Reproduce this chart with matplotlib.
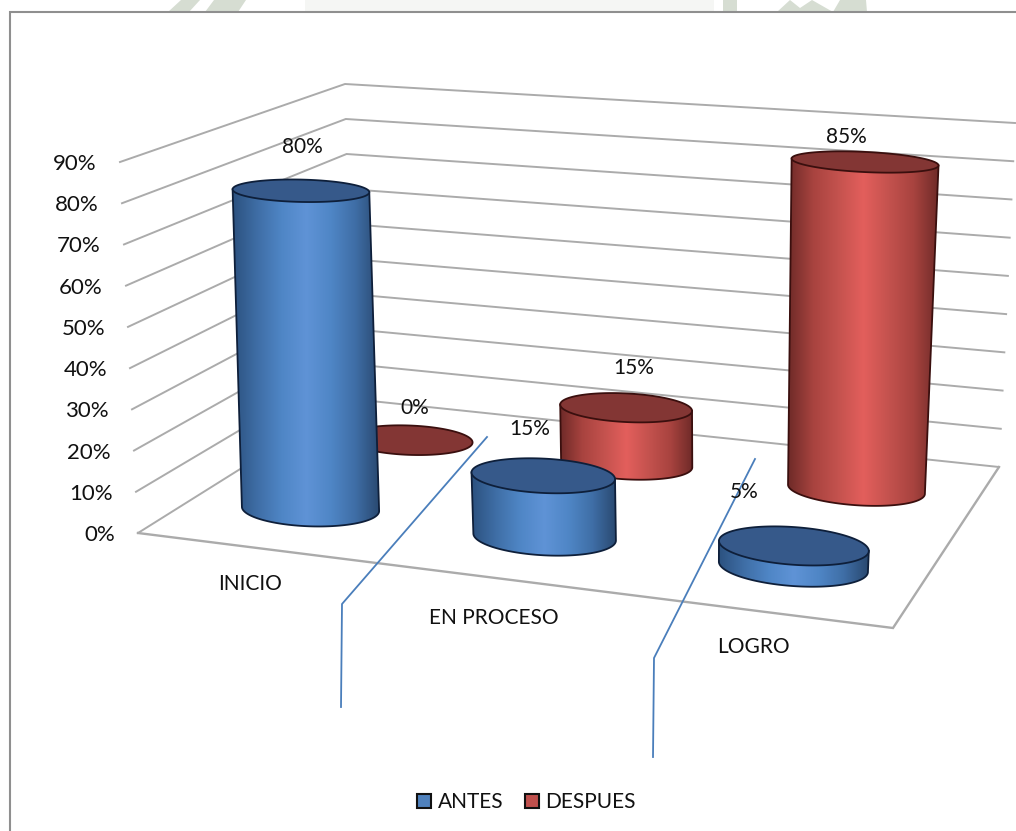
import numpy as np
import matplotlib
matplotlib.use("Agg")
import matplotlib.pyplot as plt
from matplotlib.patches import Polygon, Rectangle
from matplotlib.colors import LinearSegmentedColormap

plt.rcParams['font.family'] = ['Lato', 'DejaVu Sans']

categories = ["INICIO", "EN PROCESO", "LOGRO"]
series_names = ["ANTES", "DESPUES"]
antes = [80, 15, 5]
despues = [0, 15, 85]
value_ticks = list(range(0, 100, 10))
tick_labels = [f"{v}%" for v in value_ticks]

W, H = 1016, 831
fig = plt.figure(figsize=(W / 100, H / 100), dpi=100)
ax = fig.add_axes([0, 0, 1, 1])
ax.set_xlim(0, W)
ax.set_ylim(H, 0)
ax.axis("off")

# chart box corners: front-left, front-right, back-right, back-left
floor = [(138, 533), (893, 628), (999, 467), (352, 399)]
ceil_ = [(120, 162), (915, 228), (1015, 123), (345, 84)]
bar_ceil = [(125, 164), (916, 232), (1017, 130), (352, 88)]
vmax = 90.0
ncat, ndepth = 3.0, 2.0


def homography(pts):
    src = [(0, 0), (1, 0), (1, 1), (0, 1)]
    A, b = [], []
    for (s, t), (x, y) in zip(src, pts):
        A.append([s, t, 1, 0, 0, 0, -s * x, -t * x]); b.append(x)
        A.append([0, 0, 0, s, t, 1, -s * y, -t * y]); b.append(y)
    h = np.linalg.solve(np.array(A, float), np.array(b, float))
    return np.append(h, 1).reshape(3, 3)


HF, HC, HB = homography(floor), homography(ceil_), homography(bar_ceil)


def proj(u, w, v, upper=HC):
    """category position u, depth w, value v -> pixel"""
    u, w = np.asarray(u, float), np.asarray(w, float)
    p = np.stack([u / ncat, w / ndepth, np.ones_like(u)])
    a = HF @ p
    c = upper @ p
    a, c = a[:2] / a[2], c[:2] / c[2]
    t = v / vmax
    return a * (1 - t) + c * t


# faint watermark of the scanned page showing above the chart frame
WM = "#d6ddd2"
for pts in ([(168, 12), (181, 0), (200, 0), (189, 12)],
            [(205, 12), (214, 0), (246, 0), (238, 12)],
            [(723, 12), (723, 0), (737, 0), (737, 12)],
            [(777, 12), (790, 0), (800, 8), (812, 0), (833, 12)],
            [(833, 12), (840, 0), (866, 0), (867, 12)]):
    ax.add_patch(Polygon(pts, closed=True, fc=WM, ec="none", zorder=0))
ax.add_patch(Polygon([(305, 12), (305, 0), (714, 0), (714, 12)], closed=True, fc="#f5f6f4", ec="none", zorder=0))

GRID = "#ababab"
FRAME = "#8f8f8f"
ax.plot([10, 10, W], [H, 12, 12], color=FRAME, lw=1.5, zorder=1, solid_joinstyle="miter")

# walls
for v in value_ticks:
    pts = proj(np.array([0, 0, 3.0]), np.array([0, 2.0, 2.0]), v)
    ax.plot(pts[0], pts[1], color=GRID, lw=1.4, zorder=2, solid_joinstyle="miter")
fl = proj(np.array([0, 3.0, 3.0]), np.array([0, 0, 2.0]), 0)
ax.plot(fl[0], fl[1], color=GRID, lw=1.7, zorder=2, solid_joinstyle="miter")

# value tick labels
for v, lab in zip(value_ticks, tick_labels):
    x, y = proj(np.array(0.0), np.array(0.0), v)
    ax.text(x - 23, y + 2, lab, ha="right", va="center", fontsize=16, color="#111111", zorder=3)

blue_cmap = LinearSegmentedColormap.from_list(
    "b", ["#2c5280", "#3f6ea6", "#4f86c6", "#5f93d6", "#4f86c6", "#3f6ea6", "#29486f"])
red_cmap = LinearSegmentedColormap.from_list(
    "r", ["#6e2a28", "#a8433f", "#c4524e", "#e35f5c", "#c4524e", "#a8433f", "#6e2a28"])
TOPS = ["#36598a", "#833634"]
EDGES = ["#0e1f3a", "#3a0f0e"]
CMAPS = [blue_cmap, red_cmap]
RADIUS = 0.285
DEPTH_RATIO = 0.74


def cylinder(uc, wc, value, k, z):
    th = np.linspace(0, 2 * np.pi, 241)
    cu = uc + RADIUS * np.cos(th)
    cw = wc + RADIUS * DEPTH_RATIO * np.sin(th)
    bot = proj(cu, cw, 0, HB)
    top = proj(cu, cw, value, HB)
    if value > 0:
        il = int(np.argmin(bot[0])); ir = int(np.argmax(bot[0]))
        jl = int(np.argmin(top[0])); jr = int(np.argmax(top[0]))

        def arc(p, a, b):
            idx = (np.arange(a, a + 241 + 1) % 241)
            n = (b - a) % 241
            f = idx[:n + 1]
            idx2 = (np.arange(a, a - 241 - 1, -1) % 241)
            n2 = (a - b) % 241
            g = idx2[:n2 + 1]
            return p[:, f] if p[1, f].mean() > p[1, g].mean() else p[:, g]

        barc = arc(bot, il, ir)
        tarc = arc(top, jl, jr)
        body = np.column_stack([barc, tarc[:, ::-1]])
        poly = Polygon(body.T, closed=True, fc="none", ec="none")
        ax.add_patch(poly)
        xa, xb = body[0].min(), body[0].max()
        ya, yb = body[1].min(), body[1].max()
        im = ax.imshow(np.linspace(0, 1, 256)[None, :], cmap=CMAPS[k], extent=(xa, xb, yb, ya),
                       aspect="auto", zorder=z, interpolation="bilinear")
        im.set_clip_path(poly)
        ax.plot(np.r_[tarc[0][0], barc[0], tarc[0][-1]], np.r_[tarc[1][0], barc[1], tarc[1][-1]],
                color=EDGES[k], lw=1.3, zorder=z + 0.2)
    ax.add_patch(Polygon(top.T, closed=True, fc=TOPS[k], ec=EDGES[k], lw=1.3, zorder=z + 0.3))


# back row first, then front row
order = [(1, despues), (0, antes)]
for k, vals in order:
    for i, val in enumerate(vals):
        cylinder(i + 0.5, k + 0.5, val, k, 5 + (1 - k) * 2)

# data labels
label_px = {(0, 0): (302, 147), (0, 1): (415, 408), (1, 0): (530, 429),
            (1, 1): (634, 368), (2, 0): (744, 492), (2, 1): (846, 137)}
for k, vals in enumerate([antes, despues]):
    for i, val in enumerate(vals):
        ax.text(*label_px[(i, k)], f"{val}%", ha="center", va="center", fontsize=15, color="#111111", zorder=9)

# category labels
cat_px = [(250, 584), (494, 618), (753, 647)]
for name, (x, y) in zip(categories, cat_px):
    ax.text(x, y, name, ha="center", va="center", fontsize=15, color="#111111", zorder=9)

# hand-drawn connector lines
LINE = "#4a7ebb"
ax.plot([487, 342, 341], [437, 604, 707], color=LINE, lw=1.3, zorder=8)
ax.plot([755, 654, 653], [459, 658, 757], color=LINE, lw=1.3, zorder=8)

# legend
sw = [(416.5, 793.5), (524.5, 793.5)]
cols = ["#4f81bd", "#c0504d"]
for (x, y), c, name in zip(sw, cols, series_names):
    ax.add_patch(Rectangle((x, y), 14.5, 14.5, fc=c, ec="#111111", lw=1.5, zorder=9))
    ax.text(x + 21, y + 8, name, ha="left", va="center", fontsize=15, color="#111111", zorder=9)

fig.savefig("out.png", dpi=100)
